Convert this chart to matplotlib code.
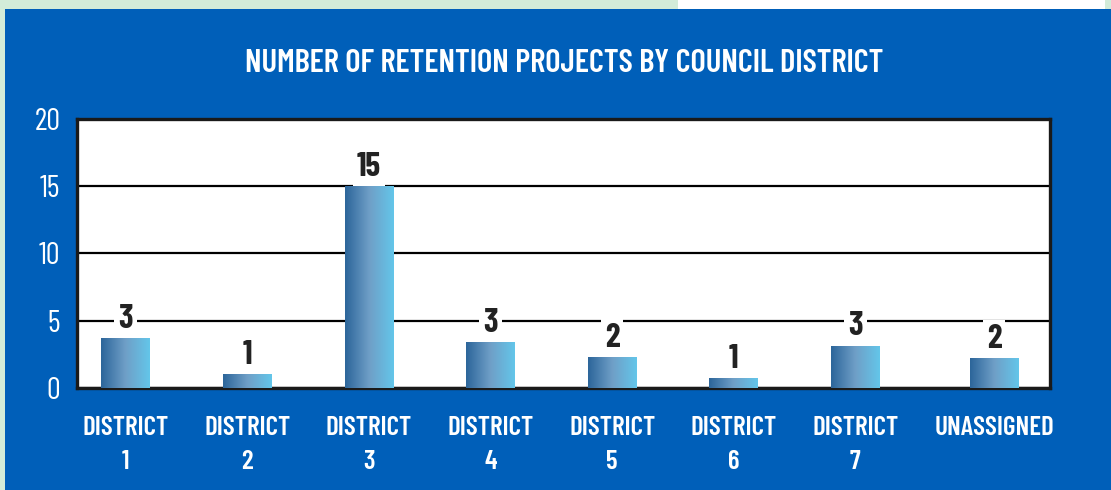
import numpy as np
import matplotlib
matplotlib.use("Agg")
import matplotlib.pyplot as plt
from matplotlib import font_manager
from matplotlib.patches import Rectangle
from matplotlib.colors import LinearSegmentedColormap

# data
categories = ["DISTRICT\n1", "DISTRICT\n2", "DISTRICT\n3", "DISTRICT\n4",
              "DISTRICT\n5", "DISTRICT\n6", "DISTRICT\n7", "UNASSIGNED"]
bar_heights = [3.74, 1.04, 15.0, 3.42, 2.30, 0.74, 3.15, 2.23]
bar_labels = ["3", "1", "15", "3", "2", "1", "3", "2"]
yticks = [0, 5, 10, 15, 20]

# the last slot sits a bit further right in the original
xpos = np.arange(len(categories), dtype=float)
xpos[-1] += 0.14

names = {f.name for f in font_manager.fontManager.ttflist}
narrow = "DejaVu Sans"
for cand in ["Barlow Condensed", "Roboto Condensed", "Oswald", "Archivo Narrow"]:
    if cand in names:
        narrow = cand
        break
plt.rcParams["font.family"] = [narrow, "DejaVu Sans"]

BLUE = "#005fb9"

fig = plt.figure(figsize=(11.11, 4.90), dpi=100, facecolor="#d3ecd9")
# decorative strip at the top
fig.patches.append(Rectangle((0.61, 0.97), 0.385, 0.03, transform=fig.transFigure,
                             facecolor="white", edgecolor="none", zorder=-2))
fig.patches.append(Rectangle((5 / 1111, 0), 1, 1 - 9 / 490, transform=fig.transFigure,
                             facecolor=BLUE, edgecolor="none", zorder=-1))

ax = fig.add_axes([77 / 1111, 102 / 490, 973 / 1111, 269 / 490])
ax.set_facecolor("white")

bars = ax.bar(xpos, bar_heights, width=0.40, color="none", zorder=3)

cmap = LinearSegmentedColormap.from_list("bargrad", ["#2c659a", "#6f9fc7", "#63c6ea"])
grad = np.linspace(0, 1, 256).reshape(1, -1)
for b in bars:
    x0, w, h = b.get_x(), b.get_width(), b.get_height()
    im = ax.imshow(grad, cmap=cmap, aspect="auto", extent=(x0, x0 + w, 0, h),
                   zorder=3, interpolation="bilinear")
    im.set_clip_path(b)

for b, lab in zip(bars, bar_labels):
    ax.annotate(lab, (b.get_x() + b.get_width() / 2, b.get_height()),
                xytext=(0, 3), textcoords="offset points", ha="center", va="bottom",
                fontsize=24, fontweight="bold", color="#222222", zorder=5,
                bbox=dict(boxstyle="square,pad=0.12", facecolor="white", edgecolor="none"))

ax.set_xlim(-0.40, 7.60)
ax.set_ylim(0, 20)
ax.set_yticks(yticks)
ax.set_yticklabels([str(v) for v in yticks], fontsize=22, color="white")
ax.set_xticks(xpos)
ax.set_xticklabels(categories, fontsize=19.5, fontweight="semibold", color="white",
                   linespacing=1.55, va="top")
ax.tick_params(axis="both", length=0)
ax.tick_params(axis="y", pad=12)
ax.tick_params(axis="x", pad=20)

ax.yaxis.grid(True, color="black", linewidth=1.6, zorder=1)
ax.set_axisbelow(True)
for s in ax.spines.values():
    s.set_color("#1a1a1a")
    s.set_linewidth(2.4)

fig.text(0.508, 1 - 63 / 490, "NUMBER OF RETENTION PROJECTS BY COUNCIL DISTRICT",
         ha="center", va="center", fontsize=23.5, fontweight="semibold", color="white")

fig.savefig("out.png", dpi=100, facecolor=fig.get_facecolor())
